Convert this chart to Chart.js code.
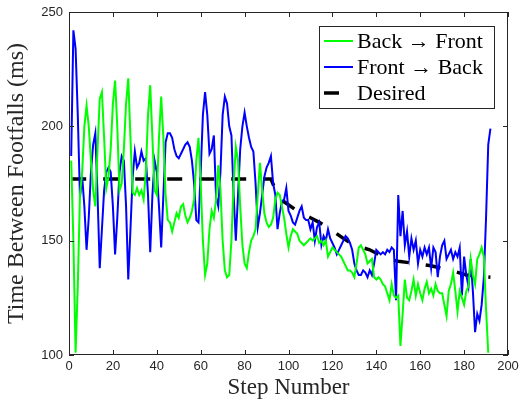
<!DOCTYPE html>
<html>
<head>
<meta charset="utf-8">
<script src="https://cdn.jsdelivr.net/npm/chart.js@4.4.1/dist/chart.umd.min.js"></script>
<style>
  html, body { margin: 0; padding: 0; background: #fff; }
</style>
</head>
<body>
<canvas id="footfalls" width="520" height="402"></canvas>
<script>
// Step-by-step time between footfalls (ms)
const backToFront = [
  185, 150, 101, 130, 170, 180, 200, 209, 200, 185,
  172, 165, 190, 212, 215, 195, 173, 178, 190, 210,
  220, 200, 172, 175, 190, 210, 221, 195, 171, 170,
  173, 170, 172, 168, 180, 205, 218, 195, 172, 170,
  195, 213, 195, 170, 159, 158, 154, 158, 162, 160,
  165, 166, 161, 158, 160, 163, 168, 185, 195, 175,
  150, 135, 140, 155, 163, 160, 168, 183, 172, 150,
  137, 134, 135, 150, 175, 191, 185, 165, 148, 140,
  138, 145, 150, 152, 155, 170, 184, 172, 162, 158,
  156, 157, 160, 168, 171, 170, 165, 160, 153, 147,
  152, 155, 154, 153, 150, 149, 148, 149, 150, 151,
  150, 151, 152, 149, 150, 148, 150, 143, 145, 147,
  146, 145, 144, 143, 141, 139, 137, 137, 136, 134,
  140, 147, 148, 146, 144, 140, 141, 142, 134, 133,
  134, 133, 131, 130, 127, 124, 131, 126, 125, 126,
  104, 118, 133, 125, 124, 128, 133, 126, 131, 127,
  124, 129, 132, 127, 129, 126, 131, 128, 127, 127,
  122, 117, 128, 131, 136, 128, 119, 128, 125, 122,
  128, 130, 142, 135, 131, 142, 144, 147, 143, 120,
  101
];

const frontToBack = [
  187, 242, 234, 205, 169, 178, 165, 146, 160, 180,
  192, 197, 170, 138, 155, 172, 180, 182, 180, 165,
  144, 160, 180, 187, 185, 165, 133, 155, 178, 189,
  182, 184, 189, 185, 186, 170, 145, 170, 185, 180,
  165, 147, 170, 193, 197, 197, 195, 190, 187, 186,
  188, 190, 192, 193, 191, 185, 175, 159, 158, 180,
  205, 215, 205, 188, 190, 196, 169, 165, 180, 205,
  213, 210, 200, 196, 170, 150, 170, 190, 200, 206,
  200, 195, 191, 189, 175, 156, 162, 170, 178, 182,
  184, 187, 175, 170, 155, 162, 167, 168, 173, 163,
  161, 158, 157, 160, 163, 165, 160, 159, 159, 155,
  158, 150, 156, 158, 148, 152, 150, 155, 151, 149,
  147, 144, 146, 148, 150, 152, 151, 149, 146, 140,
  137, 135, 135, 137, 136, 134, 137, 135, 140, 146,
  145, 144, 145, 144, 146, 145, 147, 146, 124, 170,
  152, 163, 148, 154, 143, 151, 146, 150, 140, 146,
  143, 147, 144, 147, 138, 147, 145, 134, 143, 148,
  150, 142, 144, 146, 142, 145, 143, 147, 126, 143,
  135, 130, 142, 128, 110, 118, 115, 122, 134, 160,
  192, 199
];

// Desired profile: flat, then tapering
const desiredSteps  = [1, 92, 95, 98, 104, 110, 114, 119, 125, 130, 137, 145, 150, 158, 165, 174, 181, 192];
const desiredValues = [177, 177, 170, 167, 163, 160, 158, 155, 151, 148, 146, 142, 141, 140, 139, 137, 135, 134];

const xTicks = [0, 20, 40, 60, 80, 100, 120, 140, 160, 180, 200];
const yTicks = [100, 150, 200, 250];

const AXIS_COLOR = '#262626';
const SERIF = "'Liberation Serif', 'Times New Roman', serif";
const SANS = "'Liberation Sans', Arial, sans-serif";

const toPoints = (vals, xs) => vals.map((v, i) => ({ x: xs ? xs[i] : i + 1, y: v }));

// MATLAB-style box with inward ticks on all four sides
const boxAxes = {
  id: 'boxAxes',
  afterDatasetsDraw(chart) {
    const { ctx, chartArea: a, scales: { x, y } } = chart;
    const len = 5;
    ctx.save();
    ctx.strokeStyle = AXIS_COLOR;
    ctx.lineWidth = 1;
    ctx.beginPath();
    x.ticks.forEach(t => {
      const px = Math.round(x.getPixelForValue(t.value)) + 0.5;
      ctx.moveTo(px, a.bottom); ctx.lineTo(px, a.bottom - len);
      ctx.moveTo(px, a.top); ctx.lineTo(px, a.top + len);
    });
    y.ticks.forEach(t => {
      const py = Math.round(y.getPixelForValue(t.value)) + 0.5;
      ctx.moveTo(a.left, py); ctx.lineTo(a.left + len, py);
      ctx.moveTo(a.right, py); ctx.lineTo(a.right - len, py);
    });
    ctx.stroke();
    ctx.strokeRect(Math.round(a.left) + 0.5, Math.round(a.top) + 0.5,
                   Math.round(a.width) - 1, Math.round(a.height) - 1);
    ctx.restore();
  }
};

// legend box inside the top-right corner
const innerLegend = {
  id: 'innerLegend',
  afterDraw(chart) {
    const { ctx, chartArea: a } = chart;
    const sets = chart.data.datasets;
    const w = 175, rowH = 26;
    const h = sets.length * rowH + 4;
    const x0 = a.right - w - 14, y0 = a.top + 14;
    ctx.save();
    ctx.fillStyle = '#fff';
    ctx.fillRect(x0, y0, w, h);
    ctx.strokeStyle = AXIS_COLOR;
    ctx.lineWidth = 1;
    ctx.strokeRect(Math.round(x0) + 0.5, Math.round(y0) + 0.5, w, h);
    ctx.font = '22px ' + SERIF;
    ctx.textBaseline = 'middle';
    sets.forEach((ds, i) => {
      const cy = y0 + 15 + i * rowH;
      ctx.strokeStyle = ds.borderColor;
      ctx.lineWidth = ds.borderWidth;
      ctx.setLineDash([]);
      ctx.beginPath();
      ctx.moveTo(x0 + 5, cy);
      ctx.lineTo(ds.borderDash ? x0 + 20 : x0 + 34, cy);
      ctx.stroke();
      ctx.fillStyle = '#000';
      ctx.fillText(ds.label, x0 + 38, cy + 1);
    });
    ctx.restore();
  }
};

new Chart(document.getElementById('footfalls'), {
  type: 'line',
  data: {
    datasets: [
      {
        label: 'Back \u2192 Front',
        data: toPoints(backToFront),
        borderColor: '#00ff00',
        borderWidth: 2,
        pointRadius: 0,
        tension: 0
      },
      {
        label: 'Front \u2192 Back',
        data: toPoints(frontToBack),
        borderColor: '#0000ff',
        borderWidth: 2,
        pointRadius: 0,
        tension: 0
      },
      {
        label: 'Desired',
        data: toPoints(desiredValues, desiredSteps),
        borderColor: '#000000',
        borderWidth: 3.5,
        borderDash: [15, 17],
        pointRadius: 0,
        tension: 0
      }
    ]
  },
  options: {
    responsive: false,
    animation: false,
    devicePixelRatio: 1,
    layout: { padding: { left: 0, right: 12, top: 12, bottom: 0 } },
    scales: {
      x: {
        type: 'linear',
        min: 0, max: 200,
        afterBuildTicks: s => { s.ticks = xTicks.map(v => ({ value: v })); },
        afterFit: s => { s.height = 47; s.paddingLeft = 0; s.paddingRight = 0; },
        grid: { display: false, drawTicks: false },
        border: { display: false },
        ticks: { color: AXIS_COLOR, font: { family: SANS, size: 13 }, padding: 4,
                 maxRotation: 0, autoSkip: false },
        title: { display: true, text: 'Step Number', color: AXIS_COLOR,
                 font: { family: SERIF, size: 23 }, padding: { top: 0, bottom: 0 } }
      },
      y: {
        min: 100, max: 250,
        afterBuildTicks: s => { s.ticks = yTicks.map(v => ({ value: v })); },
        afterFit: s => { s.width = 69; s.paddingTop = 0; s.paddingBottom = 0; },
        grid: { display: false, drawTicks: false },
        border: { display: false },
        ticks: { color: AXIS_COLOR, font: { family: SANS, size: 13 }, padding: 6, autoSkip: false },
        title: { display: true, text: 'Time Between Footfalls (ms)', color: AXIS_COLOR,
                 font: { family: SERIF, size: 24 }, padding: { top: 2, bottom: 0 } }
      }
    },
    plugins: {
      legend: { display: false },
      tooltip: { enabled: false }
    }
  },
  plugins: [boxAxes, innerLegend]
});
</script>
</body>
</html>
